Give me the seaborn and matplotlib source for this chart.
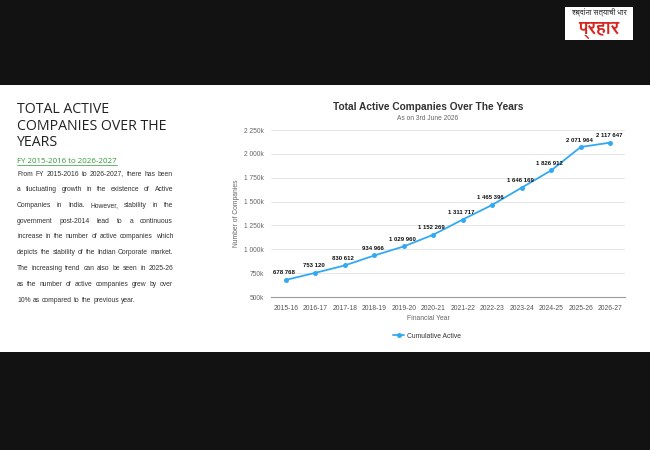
import matplotlib
matplotlib.use("Agg")
import matplotlib.pyplot as plt
from matplotlib import font_manager
from matplotlib.patches import Rectangle
from matplotlib.ticker import FuncFormatter, FixedLocator
import seaborn as sns
import pandas as pd

# ---------------- data ----------------
years = ["2015-16", "2016-17", "2017-18", "2018-19", "2019-20", "2020-21",
         "2021-22", "2022-23", "2023-24", "2024-25", "2025-26", "2026-27"]
active = [678768, 753120, 830612, 934966, 1029960, 1152269,
          1311717, 1465396, 1646169, 1826912, 2071964, 2117647]
y_ticks = [500000, 750000, 1000000, 1250000, 1500000, 1750000, 2000000, 2250000]

chart_title = "Total Active Companies Over The Years"
chart_subtitle = "As on 3rd June 2026"
x_label = "Financial Year"
y_label = "Number of Companies"
series_name = "Cumulative Active"

heading_lines = ["TOTAL ACTIVE", "COMPANIES OVER THE", "YEARS"]
sub_heading = "FY 2015-2016 to 2026-2027"
body_lines = [
    "From FY 2015-2016 to 2026-2027, there has been",
    "a fluctuating growth in the existence of Active",
    "Companies in India. However, stability in the",
    "government post-2014 lead to a continuous",
    "increase in the number of active companies which",
    "depicts the stability of the Indian Corporate market.",
    "The increasing trend can also be seen in 2025-26",
    "as the number of active companies grew by over",
    "10% as compared to the previous year.",
]
logo_top = "शब्दांना सत्याची धार"
logo_main = "प्रहार"

# ---------------- setup ----------------
sns.set_theme(style="white")
plt.rcParams["font.family"] = ["Liberation Sans", "DejaVu Sans"]

W, H = 650, 450
fig = plt.figure(figsize=(6.5, 4.5), dpi=100, facecolor="#121212")


def fx(px):
    return px / W


def fy(py):
    return 1 - py / H


# white panel (behind everything)
fig.patches.append(Rectangle((0, fy(352)), 1, (352 - 85) / H, transform=fig.transFigure,
                             facecolor="white", edgecolor="none", zorder=-10))

# ---------------- chart ----------------
df = pd.DataFrame({"year": years, "active": active})
ax = fig.add_axes([fx(271), fy(297), fx(625) - fx(271), (297 - 130) / H])
ax.set_zorder(5)
ax.set_facecolor("white")
line_color = "#33a9f2"
sns.lineplot(data=df, x="year", y="active", ax=ax, color=line_color, linewidth=1.3,
             marker="o", markersize=3.6, markeredgewidth=0, label=series_name, sort=False)

ax.set_xlim(-0.5, len(years) - 0.5)
ax.set_ylim(y_ticks[0], y_ticks[-1])
ax.yaxis.set_major_locator(FixedLocator(y_ticks))
ax.yaxis.set_major_formatter(FuncFormatter(lambda v, p: f"{v/1000:,.0f}k".replace(",", " ")))
ax.grid(axis="y", color="#e6e6e6", linewidth=0.7)
ax.grid(axis="x", visible=False)
for s in ["top", "right", "left"]:
    ax.spines[s].set_visible(False)
ax.spines["bottom"].set_color("#9a9a9a")
ax.spines["bottom"].set_linewidth(0.8)
ax.tick_params(axis="y", length=0, pad=5, labelsize=4.8, labelcolor="#666666")
ax.tick_params(axis="x", length=0, pad=5.5, labelsize=4.9, labelcolor="#555555")
ax.set_xlabel("")
ax.set_ylabel("")

for i, v in enumerate(active):
    ax.annotate(f"{v:,}".replace(",", " "), (i, v), xytext=(-1, 3.2), textcoords="offset points",
                ha="center", va="bottom", fontsize=4.3, fontweight="bold", color="#111111")

leg = ax.get_legend()
if leg is not None:
    leg.remove()
h, l = ax.get_legend_handles_labels()
fig.legend(h, l, loc="center", bbox_to_anchor=(fx(427), fy(336)), frameon=False,
           fontsize=4.9, labelcolor="#333333", handlelength=1.6, handletextpad=0.4)

fig.text(fx(428), fy(107), chart_title, ha="center", va="center", fontsize=7.3,
         fontweight="bold", color="#333333")
fig.text(fx(428), fy(119), chart_subtitle, ha="center", va="center", fontsize=4.8, color="#666666")
fig.text(fx(428), fy(319), x_label, ha="center", va="center", fontsize=4.9, color="#666666")
fig.text(fx(237), fy(213), y_label, ha="center", va="center", rotation=90, fontsize=4.9,
         color="#666666")

# ---------------- left text block ----------------
for k, t in enumerate(heading_lines):
    fig.text(fx(17), fy(113 + k * 16.6), t, ha="left", va="baseline", fontsize=10.2,
             family=["Open Sans", "DejaVu Sans"], color="#222222")

sh = fig.text(fx(17), fy(163), sub_heading, ha="left", va="baseline", fontsize=5.7,
              family=["Open Sans", "DejaVu Sans"], color="#2e9a35")

renderer = fig.canvas.get_renderer()
bb = sh.get_window_extent(renderer)
fig.lines.append(plt.Line2D([fx(17), fx(17) + bb.width / W], [fy(165), fy(165)],
                            transform=fig.transFigure, color="#2e9a35", linewidth=0.5))

probe = fig.text(0, 0, "a", fontsize=4.9)
space_w = probe.get_window_extent(renderer).width * 0.55
probe.remove()

left_px, right_px = 17, 173
for k, line in enumerate(body_lines):
    yb = fy(175.5 + k * 15.75)
    words = line.split(" ")
    texts = [fig.text(0, yb, w, ha="left", va="baseline", fontsize=4.9, color="#333333")
             for w in words]
    widths = [t.get_window_extent(renderer).width for t in texts]
    if k == len(body_lines) - 1 or len(words) == 1:
        gap = space_w
    else:
        gap = (right_px - left_px - sum(widths)) / (len(words) - 1)
    x = left_px
    for t, w in zip(texts, widths):
        t.set_x(fx(x))
        x += w + gap

# ---------------- logo ----------------
deva = None
for f in font_manager.fontManager.ttflist:
    if "Devanagari" in f.name or f.name in ("FreeSans", "Lohit Devanagari", "Mukta", "Mangal"):
        deva = f.name
        break
fig.patches.append(Rectangle((fx(565), fy(40)), fx(633) - fx(565), (40 - 7) / H,
                             transform=fig.transFigure, facecolor="white", edgecolor="none",
                             zorder=-5))
if deva:
    fig.text(fx(599), fy(13), logo_top, ha="center", va="center", fontsize=5.5,
             family=deva, color="#222222")
    fig.text(fx(599), fy(30), logo_main, ha="center", va="center", fontsize=13,
             family=deva, fontweight="bold", color="#d7261e")
else:
    fig.patches.append(Rectangle((fx(566), fy(19)), fx(632) - fx(566), (19 - 9) / H,
                                 transform=fig.transFigure, facecolor="#3a3a3a",
                                 edgecolor="none", alpha=0.6))
    fig.patches.append(Rectangle((fx(566), fy(39)), fx(632) - fx(566), (39 - 21) / H,
                                 transform=fig.transFigure, facecolor="#d7261e",
                                 edgecolor="none"))

fig.savefig("out.png", dpi=100, facecolor=fig.get_facecolor())
